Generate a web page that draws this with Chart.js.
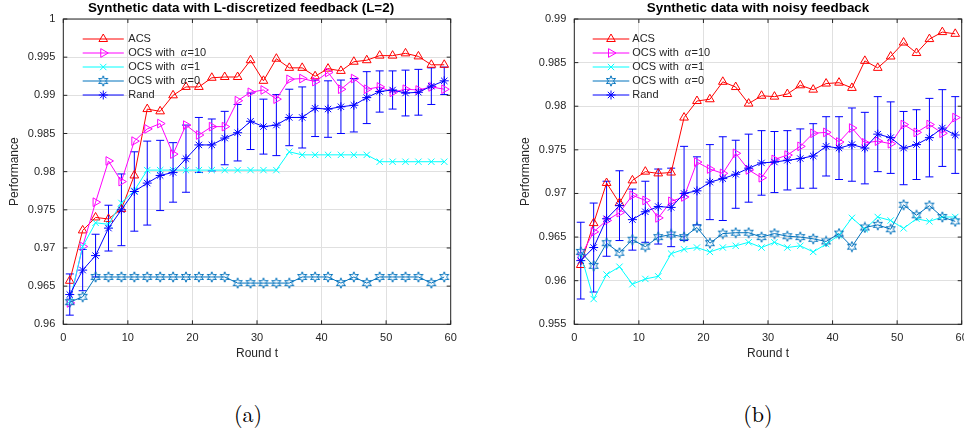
<!DOCTYPE html>
<html>
<head>
<meta charset="utf-8">
<script src="https://cdn.jsdelivr.net/npm/chart.js@4"></script>
<style>
  html, body { margin: 0; padding: 0; background: #fff; width: 964px; height: 433px; overflow: hidden; }
  #wrap { position: relative; width: 964px; height: 433px; overflow: hidden; }
  canvas { position: absolute; top: 0; }
  #ca { left: 0; }
  #cb { left: 511px; }
  .sub { position: absolute; top: 399px; width: 80px; text-align: center; line-height: 28px;
         font-family: "Latin Modern Roman", "Liberation Serif", "DejaVu Serif", serif; font-size: 22px; color: #000; }
</style>
</head>
<body>
<div id="wrap">
  <canvas id="ca" width="482" height="370"></canvas>
  <canvas id="cb" width="482" height="370"></canvas>
  <div class="sub" style="left:208px">(a)</div>
  <div class="sub" style="left:718px">(b)</div>
</div>
<script>
// rounds shared by every series
const rounds = [1, 3, 5, 7, 9, 11, 13, 15, 17, 19, 21, 23, 25, 27, 29,
                31, 33, 35, 37, 39, 41, 43, 45, 47, 49, 51, 53, 55, 57, 59];
const xTicks = [0, 10, 20, 30, 40, 50, 60];
const yTicksA = [0.96, 0.965, 0.97, 0.975, 0.98, 0.985, 0.99, 0.995, 1];
const yTicksB = [0.955, 0.96, 0.965, 0.97, 0.975, 0.98, 0.985, 0.99];
const seriesNames = ["ACS", "OCS with \u03b1=10", "OCS with \u03b1=1", "OCS with \u03b1=0", "Rand"];

// (a) L-discretized feedback
const acsA = [0.9657, 0.9723, 0.9740, 0.9738, 0.9751, 0.9795, 0.9882, 0.9879, 0.9900, 0.9911,
              0.9911, 0.9923, 0.9924, 0.9924, 0.9946, 0.9919, 0.9948, 0.9936, 0.9936, 0.9925,
              0.9935, 0.9932, 0.9944, 0.9946, 0.9952, 0.9952, 0.9955, 0.9951, 0.9940, 0.9940];
const ocs10A = [0.9628, 0.9702, 0.9760, 0.9814, 0.9787, 0.9840, 0.9856, 0.9863, 0.9823, 0.9861,
                0.9848, 0.9859, 0.9859, 0.9893, 0.9904, 0.9907, 0.9895, 0.9921, 0.9922, 0.9918,
                0.9930, 0.9908, 0.9922, 0.9908, 0.9911, 0.9904, 0.9908, 0.9907, 0.9911, 0.9908];
const ocs1A = [0.9630, 0.9702, 0.9733, 0.9731, 0.9759, 0.9775, 0.9802, 0.9802, 0.9802, 0.9802,
               0.9802, 0.9802, 0.9802, 0.9802, 0.9802, 0.9802, 0.9802, 0.9826, 0.9822, 0.9822,
               0.9822, 0.9822, 0.9822, 0.9822, 0.9813, 0.9813, 0.9813, 0.9813, 0.9813, 0.9813];
const ocs0A = [0.9629, 0.9636, 0.9662, 0.9662, 0.9662, 0.9662, 0.9662, 0.9662, 0.9662, 0.9662,
               0.9662, 0.9662, 0.9662, 0.9654, 0.9654, 0.9654, 0.9654, 0.9654, 0.9662, 0.9662,
               0.9662, 0.9654, 0.9662, 0.9654, 0.9662, 0.9662, 0.9662, 0.9662, 0.9654, 0.9662];
const randA = [0.9639, 0.9671, 0.9690, 0.9726, 0.9750, 0.9774, 0.9785, 0.9795, 0.9799, 0.9817,
               0.9835, 0.9835, 0.9844, 0.9851, 0.9866, 0.9859, 0.9861, 0.9871, 0.9871, 0.9883,
               0.9882, 0.9885, 0.9887, 0.9897, 0.9905, 0.9907, 0.9903, 0.9904, 0.9912, 0.9919];
const randErrA = [0.0027, 0.0027, 0.0028, 0.0030, 0.0047, 0.0052, 0.0055, 0.0046, 0.0039, 0.0044,
                  0.0036, 0.0034, 0.0035, 0.0037, 0.0037, 0.0036, 0.0040, 0.0037, 0.0040, 0.0037,
                  0.0037, 0.0035, 0.0035, 0.0034, 0.0027, 0.0025, 0.0030, 0.0030, 0.0024, 0.0018];

// (b) noisy feedback
const acsB = [0.9618, 0.9666, 0.9712, 0.9689, 0.9715, 0.9725, 0.9723, 0.9724, 0.9787, 0.9806,
              0.9808, 0.9828, 0.9822, 0.9803, 0.9812, 0.9811, 0.9814, 0.9824, 0.9819, 0.9826,
              0.9827, 0.9821, 0.9852, 0.9844, 0.9857, 0.9873, 0.9861, 0.9877, 0.9885, 0.9883];
const ocs10B = [0.9628, 0.9656, 0.9669, 0.9678, 0.9698, 0.9692, 0.9672, 0.9691, 0.9696, 0.9736,
                0.9728, 0.9723, 0.9746, 0.9727, 0.9718, 0.9739, 0.9744, 0.9754, 0.9769, 0.9770,
                0.9759, 0.9775, 0.9758, 0.9760, 0.9757, 0.9779, 0.9770, 0.9779, 0.9769, 0.9787];
const ocs1B = [0.9630, 0.9579, 0.9607, 0.9616, 0.9596, 0.9602, 0.9605, 0.9631, 0.9636, 0.9638,
               0.9633, 0.9638, 0.9640, 0.9644, 0.9638, 0.9644, 0.9638, 0.9640, 0.9633, 0.9642,
               0.9652, 0.9672, 0.9659, 0.9673, 0.9669, 0.9660, 0.9671, 0.9668, 0.9673, 0.9673];
const ocs0B = [0.9633, 0.9617, 0.9643, 0.9632, 0.9647, 0.9639, 0.9650, 0.9653, 0.9650, 0.9661,
               0.9643, 0.9654, 0.9655, 0.9655, 0.9650, 0.9654, 0.9651, 0.9650, 0.9648, 0.9645,
               0.9654, 0.9639, 0.9661, 0.9664, 0.9659, 0.9687, 0.9675, 0.9686, 0.9673, 0.9668];
const randB = [0.9623, 0.9638, 0.9671, 0.9686, 0.9670, 0.9679, 0.9685, 0.9684, 0.9700, 0.9703,
               0.9713, 0.9717, 0.9722, 0.9729, 0.9735, 0.9736, 0.9738, 0.9740, 0.9743, 0.9754,
               0.9752, 0.9756, 0.9752, 0.9768, 0.9764, 0.9752, 0.9756, 0.9764, 0.9775, 0.9767];
const randErrB = [0.0044, 0.0051, 0.0043, 0.0040, 0.0035, 0.0035, 0.0043, 0.0045, 0.0054, 0.0039,
                  0.0043, 0.0048, 0.0039, 0.0039, 0.0037, 0.0035, 0.0034, 0.0034, 0.0037, 0.0034,
                  0.0036, 0.0042, 0.0041, 0.0043, 0.0041, 0.0042, 0.0040, 0.0045, 0.0044, 0.0044];

const SANS = '"Liberation Sans", Arial, Helvetica, sans-serif';
Chart.defaults.font.family = SANS;
Chart.defaults.color = "#262626";

// hexagram marker (octave style) as a small canvas
function hexagram(color) {
  const c = document.createElement("canvas");
  c.width = 12; c.height = 12;
  const g = c.getContext("2d");
  g.strokeStyle = color; g.lineWidth = 1;
  g.beginPath();
  for (let k = 0; k < 12; k++) {
    const r = k % 2 === 0 ? 5.2 : 2.5;
    const a = -Math.PI / 2 + k * Math.PI / 6;
    const px = 6 + r * Math.cos(a), py = 6 + r * Math.sin(a);
    if (k === 0) g.moveTo(px, py); else g.lineTo(px, py);
  }
  g.closePath();
  g.stroke();
  return c;
}
const hexImg = hexagram("#0072bd");

function pts(vals) {
  return rounds.map((r, i) => ({ x: r, y: vals[i] }));
}

function datasets(acs, o10, o1, o0, rnd) {
  return [
    { label: seriesNames[0], data: pts(acs), borderColor: "#ff0000", pointStyle: "triangle", pointRotation: 0, pointRadius: 5, order: 5 },
    { label: seriesNames[1], data: pts(o10), borderColor: "#ff00ff", pointStyle: "triangle", pointRotation: 90, pointRadius: 5, order: 4 },
    { label: seriesNames[2], data: pts(o1), borderColor: "#00ffff", pointStyle: "crossRot", pointRotation: 0, pointRadius: 4.5, order: 3 },
    { label: seriesNames[3], data: pts(o0), borderColor: "#0072bd", pointStyle: hexImg, pointRotation: 0, pointRadius: 5, order: 2 },
    { label: seriesNames[4], data: pts(rnd), borderColor: "#0000ff", pointStyle: "star", pointRotation: 0, pointRadius: 4.5, order: 1 },
  ].map(d => Object.assign(d, {
    borderWidth: 1, pointBorderColor: d.borderColor, pointBorderWidth: 1,
    pointBackgroundColor: "rgba(0,0,0,0)", backgroundColor: "rgba(0,0,0,0)",
    tension: 0, fill: false,
  }));
}

// error bars, box, inward ticks, title and in-axes legend
function extras(cfg) {
  return {
    id: "extras",
    beforeDatasetsDraw(chart) {
      const { ctx, scales: { x, y } } = chart;
      ctx.save();
      ctx.strokeStyle = "#0000ff";
      ctx.lineWidth = 1;
      cfg.mean.forEach((m, i) => {
        const px = x.getPixelForValue(rounds[i]);
        const t = y.getPixelForValue(m + cfg.err[i]);
        const b = y.getPixelForValue(m - cfg.err[i]);
        ctx.beginPath();
        ctx.moveTo(px, t); ctx.lineTo(px, b);
        ctx.moveTo(px - 4, t); ctx.lineTo(px + 4, t);
        ctx.moveTo(px - 4, b); ctx.lineTo(px + 4, b);
        ctx.stroke();
      });
      ctx.restore();
    },
    afterDraw(chart) {
      const { ctx, chartArea: a, scales: { x, y } } = chart;
      ctx.save();
      // box + ticks
      ctx.strokeStyle = "#262626";
      ctx.lineWidth = 1;
      ctx.strokeRect(a.left, a.top, a.right - a.left, a.bottom - a.top);
      ctx.beginPath();
      xTicks.forEach(v => {
        const px = x.getPixelForValue(v);
        ctx.moveTo(px, a.bottom); ctx.lineTo(px, a.bottom - 4);
        ctx.moveTo(px, a.top); ctx.lineTo(px, a.top + 4);
      });
      cfg.yTicks.forEach(v => {
        const py = y.getPixelForValue(v);
        ctx.moveTo(a.left, py); ctx.lineTo(a.left + 4, py);
        ctx.moveTo(a.right, py); ctx.lineTo(a.right - 4, py);
      });
      ctx.stroke();

      // title
      ctx.fillStyle = "#000";
      ctx.font = "bold 13.4px " + SANS;
      ctx.textAlign = "center";
      ctx.textBaseline = "middle";
      ctx.fillText(cfg.title, cfg.titleX, 8.5);

      // legend
      ctx.textAlign = "left";
      chart.data.datasets.forEach((d, i) => {
        const ly = a.top + 20 + i * 14;
        const x0 = a.left + cfg.leg.ls, x1 = a.left + cfg.leg.le;
        ctx.strokeStyle = d.borderColor;
        ctx.lineWidth = 1;
        ctx.beginPath(); ctx.moveTo(x0, ly); ctx.lineTo(x1, ly); ctx.stroke();
        ctx.fillStyle = "rgba(0,0,0,0)";
        Chart.helpers.drawPoint(ctx, {
          pointStyle: d.pointStyle, rotation: d.pointRotation,
          radius: d.pointRadius, borderWidth: 1,
        }, (x0 + x1) / 2, ly);
        // label: sans text with italic alpha
        let tx = a.left + cfg.leg.tx;
        const parts = d.label.split("\u03b1");
        ctx.fillStyle = "#262626";
        ctx.font = "11px " + SANS;
        ctx.fillText(parts[0].trimEnd(), tx, ly);
        if (parts.length > 1) {
          tx += ctx.measureText(parts[0].trimEnd()).width + 6;
          ctx.font = "italic 12px \"Liberation Serif\", serif";
          ctx.fillText("\u03b1", tx, ly);
          tx += ctx.measureText("\u03b1").width + 0.5;
          ctx.font = "11px " + SANS;
          ctx.fillText(parts[1], tx, ly);
        }
      });
      ctx.restore();
    },
  };
}

function makeChart(id, cfg) {
  return new Chart(document.getElementById(id), {
    type: "line",
    data: { datasets: datasets(...cfg.series) },
    plugins: [extras(cfg)],
    options: {
      responsive: false,
      animation: false,
      events: [],
      layout: { padding: { top: 19, right: 31.3, left: 0, bottom: 0 } },
      plugins: { legend: { display: false }, tooltip: { enabled: false } },
      scales: {
        x: {
          type: "linear", min: 0, max: 60,
          afterBuildTicks: s => { s.ticks = xTicks.map(v => ({ value: v })); },
          afterFit: s => { s.height = 45.7; },
          grid: { color: "#e0e0e0", drawTicks: false },
          border: { display: false },
          ticks: { padding: 7, font: { size: 11 }, color: "#262626", maxRotation: 0,
                   callback: v => String(v) },
          title: { display: true, text: "Round t", font: { size: 12 }, color: "#262626",
                   padding: { top: 0, bottom: 9.5 } },
        },
        y: {
          type: "linear", min: cfg.yTicks[0], max: cfg.yTicks[cfg.yTicks.length - 1],
          afterBuildTicks: s => { s.ticks = cfg.yTicks.map(v => ({ value: v })); },
          afterFit: s => { s.width = 63.3; },
          grid: { color: "#e0e0e0", drawTicks: false },
          border: { display: false },
          ticks: { padding: 8, font: { size: 11 }, color: "#262626",
                   callback: v => String(v) },
          title: { display: true, text: "Performance", font: { size: 12 }, color: "#262626",
                   padding: { top: 7.3, bottom: 0 } },
        },
      },
    },
  });
}

makeChart("ca", {
  series: [acsA, ocs10A, ocs1A, ocs0A, randA],
  mean: randA, err: randErrA, yTicks: yTicksA,
  title: "Synthetic data with L-discretized feedback (L=2)", titleX: 241,
  leg: { ls: 19.4, le: 60.5, tx: 65 },
});
makeChart("cb", {
  series: [acsB, ocs10B, ocs1B, ocs0B, randB],
  mean: randB, err: randErrB, yTicks: yTicksB,
  title: "Synthetic data with noisy feedback", titleX: 758 - 511,
  leg: { ls: 18.4, le: 55, tx: 58 },
});
</script>
</body>
</html>
